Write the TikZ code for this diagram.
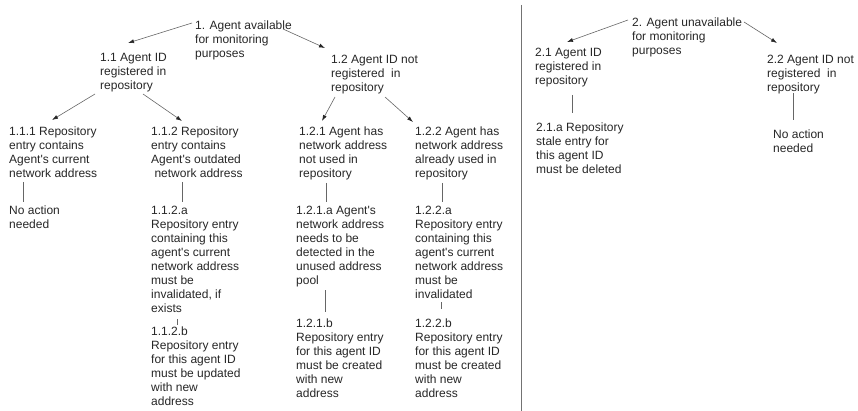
\documentclass[tikz,border=0pt]{standalone}
\usepackage{fontspec}
\setmainfont{Liberation Sans}
\usetikzlibrary{calc,arrows.meta}
\newcommand{\apos}{\textquotesingle}
\begin{document}
\begin{tikzpicture}[x=1pt,y=-1pt,
  txt/.style={anchor=north west,inner sep=0pt,align=left,text=black!85,
    font=\fontsize{12}{14}\selectfont},
  link/.style={draw=black!60,line width=0.6pt},
  arr/.style={link,-{Latex[length=6pt,width=4pt,fill=black!85,color=black!85]}}]
\useasboundingbox (0,0) rectangle (858,411);

% left tree: agent available
\node[txt] (n1) at (195,21) {1. Agent available\\for monitoring\\purposes};
\node[txt] (n11) at (100,53) {1.1 Agent ID\\registered in\\repository};
\node[txt] (n12) at (331,55) {1.2 Agent ID not\\registered~ in\\repository};
\node[txt] (n111) at (9,127) {1.1.1 Repository\\entry contains\\Agent\apos s current\\network address};
\node[txt] (n112) at (151,127) {1.1.2 Repository\\entry contains\\Agent\apos s outdated\\~network address};
\node[txt] (n121) at (299,127) {1.2.1 Agent has\\network address\\not used in\\repository};
\node[txt] (n122) at (415,127) {1.2.2 Agent has\\network address\\already used in\\repository};
\node[txt] (n111a) at (9,206) {No action\\needed};
\node[txt] (n112a) at (151,206) {1.1.2.a\\Repository entry\\containing this\\agent\apos s current\\network address\\must be\\invalidated, if\\exists};
\node[txt] (n121a) at (296,206) {1.2.1.a Agent\apos s\\network address\\needs to be\\detected in the\\unused address\\pool};
\node[txt] (n122a) at (415,206) {1.2.2.a\\Repository entry\\containing this\\agent\apos s current\\network address\\must be\\invalidated};
\node[txt] (n112b) at (151,327) {1.1.2.b\\Repository entry\\for this agent ID\\must be updated\\with new\\address};
\node[txt] (n121b) at (296,319) {1.2.1.b\\Repository entry\\for this agent ID\\must be created\\with new\\address};
\node[txt] (n122b) at (415,319) {1.2.2.b\\Repository entry\\for this agent ID\\must be created\\with new\\address};

\draw[arr] ($(n1.north west)+(-3,2)$) -- ($(n11.north west)+(28,-10)$);
\draw[arr] ($(n1.north west)+(88,8)$) -- ($(n12.north west)+(-6,-7)$);
\draw[arr] ($(n11.north west)+(-5,41)$) -- ($(n111.north west)+(43,-7)$);
\draw[arr] ($(n11.north west)+(43,41)$) -- ($(n112.north west)+(31,-6)$);
\draw[arr] ($(n12.north west)+(4,42)$) -- ($(n121.north west)+(23,-6)$);
\draw[arr] ($(n12.north west)+(54,42)$) -- ($(n122.north west)+(-2,-5)$);

\draw[link] ($(n111.north west)+(14,55)$) -- ($(n111a.north west)+(14,-4)$);
\draw[link] ($(n112.north west)+(31,55)$) -- ($(n112a.north west)+(31,-4)$);
\draw[link] ($(n121.north west)+(27,56)$) -- ($(n121a.north west)+(30,-4)$);
\draw[link] ($(n122.north west)+(27,56)$) -- ($(n122a.north west)+(27,-4)$);
\draw[link] ($(n112a.north west)+(26,113)$) -- ($(n112b.north west)+(26,-2)$);
\draw[link] ($(n121a.north west)+(29,84)$) -- ($(n121b.north west)+(29,-7)$);
\draw[link] ($(n122a.north west)+(26,96)$) -- ($(n122b.north west)+(26,-10)$);

% divider
\draw[draw=black!55,line width=0.7pt] (521,5) -- (521,411);

% right tree: agent unavailable
\node[txt] (n2) at (632,18) {2. Agent unavailable\\for monitoring\\purposes};
\node[txt] (n21) at (535,48) {2.1 Agent ID\\registered in\\repository};
\node[txt] (n22) at (767,55) {2.2 Agent ID not\\registered~ in\\repository};
\node[txt] (n21a) at (536,123) {2.1.a Repository\\stale entry for\\this agent ID\\must be deleted};
\node[txt] (n22a) at (773,130) {No action\\needed};

\draw[arr] ($(n2.north west)+(-4,2)$) -- ($(n21.north west)+(32,-6)$);
\draw[arr] ($(n2.north west)+(112,4)$) -- ($(n22.north west)+(10,-12)$);
\draw[link] ($(n21.north west)+(37,47)$) -- ($(n21a.north west)+(36,-10)$);
\draw[link] ($(n22.north west)+(26,38)$) -- ($(n22a.north west)+(20,-10)$);
\end{tikzpicture}
\end{document}
